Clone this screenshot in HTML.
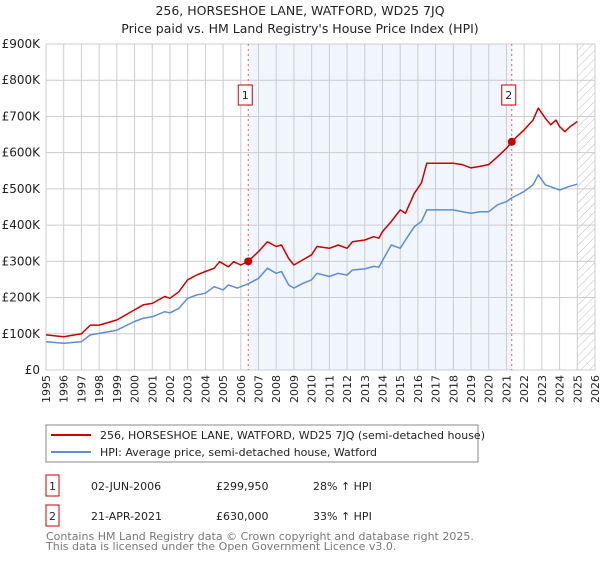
<!DOCTYPE html>
<html><head><meta charset="utf-8"><style>
body{margin:0;background:#fff;font-family:"Liberation Sans","DejaVu Sans",sans-serif}
svg text{font-family:"DejaVu Sans","Liberation Sans",sans-serif}
</style></head><body>
<svg id="c" width="600" height="560" xmlns="http://www.w3.org/2000/svg">
<defs><pattern id="hatch" width="6" height="6" patternUnits="userSpaceOnUse" patternTransform="rotate(45)"><line x1="0" y1="0" x2="0" y2="6" stroke="#bbb" stroke-width="1"/></pattern></defs>
<text x="300" y="15" text-anchor="middle" font-size="12.5" fill="#222">256, HORSESHOE LANE, WATFORD, WD25 7JQ</text>
<text x="300" y="33" text-anchor="middle" font-size="12.5" fill="#222">Price paid vs. HM Land Registry's House Price Index (HPI)</text>
<g id="plot"></g>
<rect x="46" y="425" width="432" height="37" fill="#fff" stroke="#888"/>
<line x1="51" y1="435" x2="91" y2="435" stroke="#cc0000" stroke-width="2"/>
<text x="100" y="439" font-size="11" fill="#222">256, HORSESHOE LANE, WATFORD, WD25 7JQ (semi-detached house)</text>
<line x1="51" y1="452" x2="91" y2="452" stroke="#5b8fd1" stroke-width="2"/>
<text x="100" y="456" font-size="11" fill="#222">HPI: Average price, semi-detached house, Watford</text>
<rect x="46" y="475" width="13" height="21" fill="#fff" stroke="#cc0000"/>
<text x="52.5" y="490" text-anchor="middle" font-size="11" fill="#222">1</text>
<text x="91" y="490" font-size="11" fill="#222">02-JUN-2006</text>
<text x="216" y="490" font-size="11" fill="#222">£299,950</text>
<text x="313" y="490" font-size="11" fill="#222">28% ↑ HPI</text>
<rect x="46" y="505" width="13" height="21" fill="#fff" stroke="#cc0000"/>
<text x="52.5" y="520" text-anchor="middle" font-size="11" fill="#222">2</text>
<text x="91" y="520" font-size="11" fill="#222">21-APR-2021</text>
<text x="216" y="520" font-size="11" fill="#222">£630,000</text>
<text x="313" y="520" font-size="11" fill="#222">33% ↑ HPI</text>
<text x="46" y="540" font-size="11" fill="#777">Contains HM Land Registry data © Crown copyright and database right 2025.</text>
<text x="46" y="550" font-size="11" fill="#777">This data is licensed under the Open Government Licence v3.0.</text>
</svg>
<script>
const yTicks=[0,100,200,300,400,500,600,700,800,900];
const years=[1995,1996,1997,1998,1999,2000,2001,2002,2003,2004,2005,2006,2007,2008,2009,2010,2011,2012,2013,2014,2015,2016,2017,2018,2019,2020,2021,2022,2023,2024,2025,2026];
const sales=[{t:2006.42,v:299.95,l:"1"},{t:2021.3,v:630,l:"2"}];
const redT=[1995,1996,1997,1997.5,1998,1999,2000,2000.5,2001,2001.7,2002,2002.5,2003,2003.5,2004,2004.5,2004.8,2005.3,2005.6,2006,2006.42,2007,2007.5,2008,2008.3,2008.7,2009,2009.5,2010,2010.3,2011,2011.5,2012,2012.3,2013,2013.5,2013.8,2014,2014.5,2015,2015.3,2015.8,2016.2,2016.5,2017,2018,2018.5,2019,2019.5,2020,2020.5,2021,2021.3,2021.6,2022,2022.5,2022.8,2023.2,2023.5,2023.8,2024,2024.3,2024.6,2025];
const redV=[97,92,100,124,124,138,166,180,184,203,198,216,249,262,272,281,299,285,299,290,300,327,354,341,345,308,290,304,318,341,336,345,336,354,359,368,364,382,410,442,433,488,516,571,571,571,567,558,562,567,589,612,630,645,663,690,723,695,677,690,672,658,672,686];
const blueT=[1995,1996,1997,1997.5,1998,1999,2000,2000.5,2001,2001.7,2002,2002.5,2003,2003.5,2004,2004.5,2005,2005.3,2005.8,2006.42,2007,2007.5,2008,2008.3,2008.7,2009,2009.5,2010,2010.3,2011,2011.5,2012,2012.3,2013,2013.5,2013.8,2014,2014.5,2015,2015.3,2015.8,2016.2,2016.5,2017,2018,2018.5,2019,2019.5,2020,2020.5,2021,2021.3,2022,2022.5,2022.8,2023.2,2023.5,2024,2024.5,2025];
const blueV=[78,74,78,97,101,110,134,143,147,161,158,170,198,207,212,230,221,235,226,238,253,281,267,272,235,226,239,249,267,258,267,262,276,279,286,284,302,345,336,359,396,410,442,442,442,437,433,437,437,456,465,475,493,511,539,511,506,497,506,513];
const NS="http://www.w3.org/2000/svg";
const X0=46,X1=595,Y0=370,Y1=44;
const xs=t=>X0+(t-1995)*(X1-X0)/31;
const ys=v=>Y0-v*(Y0-Y1)/900;
const g=document.getElementById('plot');
function mk(tag,attrs,parent){const e=document.createElementNS(NS,tag);for(const k in attrs)e.setAttribute(k,attrs[k]);(parent||g).appendChild(e);return e;}
let e=mk('rect',{x:xs(sales[0].t),y:Y1,width:xs(sales[1].t)-xs(sales[0].t),height:Y0-Y1,fill:'#eef3fc',opacity:0.8});


e=mk('rect',{x:xs(2025),y:Y1,width:X1-xs(2025),height:Y0-Y1,fill:'url(#hatch)'});


years.forEach(y=>{const x=xs(y);
 let l=mk('line',{x1:x,y1:Y1,x2:x,y2:Y0,stroke:'#ccc','stroke-width':1});
 
 
 let t=mk('text',{x:0,y:0,'font-size':11,fill:'#222','text-anchor':'end',transform:`translate(${x+4},${Y0+5}) rotate(-90)`});
 t.textContent=y;
 
 
});
yTicks.forEach(v=>{const y=ys(v);
 let l=mk('line',{x1:X0,y1:y,x2:X1,y2:y,stroke:'#ccc','stroke-width':1});
 
 
 let t=mk('text',{x:X0-6,y:y+4,'font-size':12,fill:'#222','text-anchor':'end'});
 t.textContent=v===0?'£0':'£'+v+'K';
 
 
});
e=mk('rect',{x:X0,y:Y1,width:X1-X0,height:Y0-Y1,fill:'none',stroke:'#ccc'});


function line(T,V,color,name){const d=T.map((t,i)=>(i?'L':'M')+xs(t).toFixed(1)+','+ys(V[i]).toFixed(1)).join('');
 const p=mk('path',{d,fill:'none',stroke:color,'stroke-width':1.5,'stroke-linejoin':'round'});
 
 }
line(blueT,blueV,'#5b8fd1','hpi-line');
line(redT,redV,'#cc0000','property-price-line');
sales.forEach(s=>{const x=xs(s.t);
 let l=mk('line',{x1:x,y1:Y1,x2:x,y2:Y0,stroke:'#e06060','stroke-width':1,'stroke-dasharray':'2,3'});
 
 
 let c=mk('circle',{cx:x,cy:ys(s.v),r:4,fill:'#cc0000'});
 
 
 let r=mk('rect',{x:x-10,y:85,width:14,height:20,fill:'#fff',stroke:'#cc0000'});
 
 
 let t=mk('text',{x:x-3,y:99,'font-size':11,fill:'#222','text-anchor':'middle'});
 t.textContent=s.l;
 
 
});
</script>
</body></html>
